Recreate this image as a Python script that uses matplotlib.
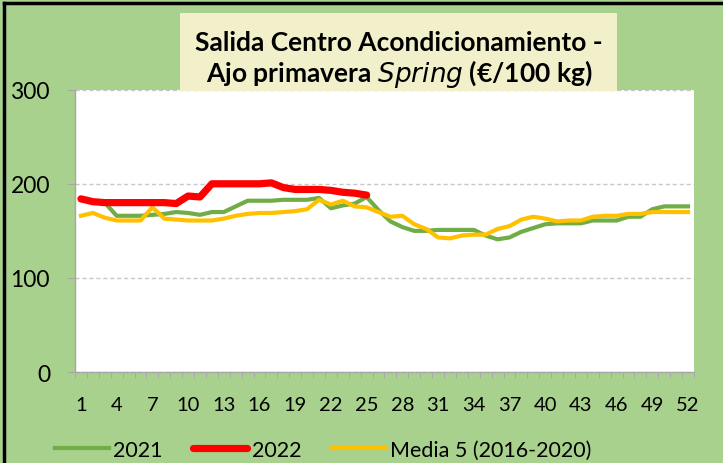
import matplotlib
matplotlib.use("Agg")
import matplotlib.pyplot as plt
import matplotlib.patches as mpatches
import numpy as np

weeks = list(range(1, 53))

# 2021 (full year)
s2021 = [183, 181, 180, 166, 166, 166, 167, 168, 170, 169,
         167, 170, 170, 176, 182, 182, 182, 183, 183, 183,
         185, 174, 177, 179, 186, 172, 160, 154, 150, 150,
         151, 151, 151, 151, 145, 141, 143, 149, 153, 157,
         158, 158, 158, 161, 161, 161, 165, 165, 173, 176,
         176, 176]

# 2022 (weeks 1-25)
s2022 = [184, 181, 180, 180, 180, 180, 180, 180, 179, 187,
         186, 200, 200, 200, 200, 200, 201, 196, 194, 194,
         194, 193, 191, 190, 188]

# Media 5 (2016-2020)
media5 = [166, 169, 164, 161, 161, 161, 175, 163, 162, 161,
          161, 161, 163, 166, 168, 169, 169, 170, 171, 173,
          183, 178, 182, 176, 175, 170, 165, 166, 157, 152,
          143, 142, 145, 146, 146, 152, 155, 162, 165, 163,
          160, 161, 161, 165, 166, 166, 168, 168, 170, 170,
          170, 170]

yticks = [0, 100, 200, 300]
xticks = list(range(1, 53, 3))

bg = "#A9D18E"
font = ["Lato", "DejaVu Sans"]

fig = plt.figure(figsize=(7.23, 4.64), dpi=100, facecolor=bg)
ax = fig.add_axes([75 / 723, 1 - 373 / 464, 619 / 723, (373 - 90.7) / 464])
ax.set_facecolor("white")

ax.plot(weeks, s2021, color="#70AD47", lw=3.0, label="2021", zorder=3)
ax.plot(weeks[:len(s2022)], s2022, color="#FF0000", lw=5.2, label="2022",
        solid_capstyle="round", solid_joinstyle="round", zorder=4)
ax.plot(weeks, media5, color="#FFC000", lw=3.0, label="Media 5 (2016-2020)", zorder=3)

ax.set_xlim(0.5, 52.5)
ax.set_ylim(0, 300)
ax.set_yticks(yticks)
ax.set_xticks(xticks)
ax.set_xticks(np.arange(0.5, 53, 1), minor=True)
ax.yaxis.grid(True, color="#C8C8C8", ls=(0, (3, 2)), lw=1.0)
ax.set_axisbelow(True)

for s in ["top", "right"]:
    ax.spines[s].set_visible(False)
for s in ["left", "bottom"]:
    ax.spines[s].set_color("#A6A6A6")
    ax.spines[s].set_linewidth(1.0)

ax.tick_params(axis="y", which="major", length=6, color="#A6A6A6", pad=12,
               labelsize=16.5)
ax.tick_params(axis="x", which="major", length=0, pad=17, labelsize=14.5)
ax.tick_params(axis="x", which="minor", length=4, color="#A6A6A6")
for lab in ax.get_yticklabels() + ax.get_xticklabels():
    lab.set_family(font)

# title box
fig.patches.append(mpatches.Rectangle((180 / 723, 1 - 92 / 464), 437 / 723, 78 / 464,
                                      transform=fig.transFigure, facecolor="#F1F0CA",
                                      edgecolor="none", zorder=5))
fig.text(399 / 723, 1 - 43 / 464, "Salida Centro Acondicionamiento -", ha="center",
         va="center", fontsize=19, fontweight="bold", family=font, zorder=6)
fig.text(399 / 723, 1 - 74 / 464, "Ajo primavera $\\it{Spring}$ (€/100 kg)", ha="center",
         va="center", fontsize=19, fontweight="bold", family=font, zorder=6)

# outer border (left and top)
fig.add_artist(plt.Line2D([4 / 723, 4 / 723], [0, 1 - 4 / 464], color="black", lw=2.5,
                          transform=fig.transFigure))
fig.add_artist(plt.Line2D([4 / 723, 1], [1 - 4 / 464, 1 - 4 / 464], color="black", lw=2.5,
                          transform=fig.transFigure))

leg = fig.legend(loc="center", bbox_to_anchor=(323 / 723, 1 - 451 / 464), ncol=3,
                 frameon=False, prop={"family": font, "size": 15.5}, handlelength=2.5,
                 columnspacing=1.4, handletextpad=0.22)

fig.savefig("out.png", dpi=100, facecolor=bg)
